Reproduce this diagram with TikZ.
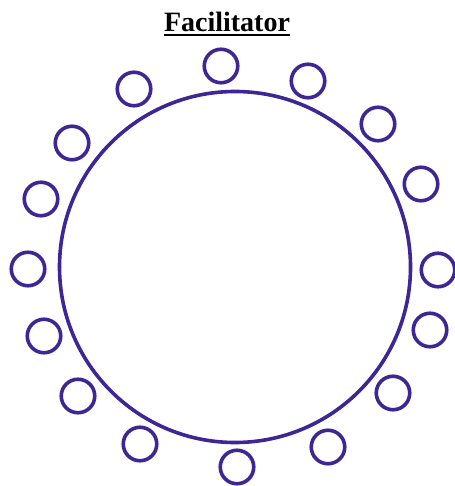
\documentclass[tikz,border=0pt]{standalone}
\usepackage{fontspec}
\setmainfont{Liberation Serif}
\definecolor{seat}{RGB}{62,38,148}
\begin{document}
\begin{tikzpicture}[x=1pt,y=-1pt,
  seatc/.style={circle,draw=seat,line width=3.6pt,minimum size=33.5pt,inner sep=0pt},
  tablec/.style={circle,draw=seat,line width=3.6pt,minimum size=351pt,inner sep=0pt}]
\useasboundingbox (0,0) rectangle (454,486);
\node[anchor=base,font=\bfseries\fontsize{28}{30}\selectfont,inner sep=0pt] (title) at (227,31.5) {Facilitator};
\draw[line width=1.6pt] ([yshift=-3.5pt]title.base west) -- ([yshift=-3.5pt]title.base east);
\node[tablec] (table) at (235,267) {};
\node[seatc] (s1) at (221,66) {};
\node[seatc] (s2) at (308,81) {};
\node[seatc] (s3) at (378,124) {};
\node[seatc] (s4) at (421,184) {};
\node[seatc] (s5) at (438,270) {};
\node[seatc] (s6) at (430,330) {};
\node[seatc] (s7) at (393,393) {};
\node[seatc] (s8) at (328,447) {};
\node[seatc] (s9) at (237,467) {};
\node[seatc] (s10) at (140,444) {};
\node[seatc] (s11) at (78,396) {};
\node[seatc] (s12) at (44,336) {};
\node[seatc] (s13) at (28,269) {};
\node[seatc] (s14) at (41,199) {};
\node[seatc] (s15) at (72,143) {};
\node[seatc] (s16) at (134,89) {};
\end{tikzpicture}
\end{document}
